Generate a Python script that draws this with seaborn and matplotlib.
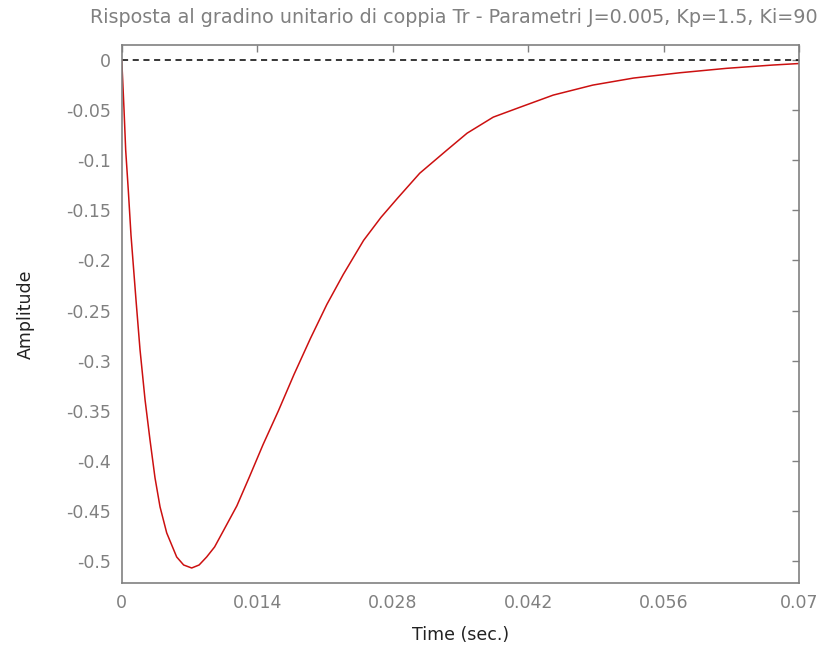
import matplotlib
matplotlib.use("Agg")
import matplotlib.pyplot as plt
import seaborn as sns
import pandas as pd

# Data
time_s = [0.0, 0.0001, 0.00024, 0.00041, 0.00068, 0.00096, 0.0012, 0.00148,
          0.00189, 0.00241, 0.00292, 0.00344, 0.00396, 0.00465, 0.00568, 0.0064,
          0.00723, 0.0080, 0.00878, 0.0096, 0.0105, 0.0119, 0.0132, 0.0146,
          0.0162, 0.0178, 0.0195, 0.0212, 0.0229, 0.0250, 0.0268, 0.0285,
          0.0308, 0.0336, 0.0357, 0.0384, 0.0412, 0.0446, 0.0487, 0.0529,
          0.0577, 0.0625, 0.0673, 0.0700]
amplitude = [0.0, -0.02, -0.05, -0.09, -0.13, -0.175, -0.205, -0.24,
             -0.289, -0.339, -0.379, -0.417, -0.446, -0.472, -0.496, -0.504,
             -0.507, -0.504, -0.496, -0.486, -0.470, -0.445, -0.416, -0.384,
             -0.350, -0.314, -0.278, -0.244, -0.214, -0.180, -0.157, -0.138,
             -0.113, -0.090, -0.073, -0.057, -0.047, -0.035, -0.025, -0.018,
             -0.0127, -0.0083, -0.005, -0.0035]
x_ticks = [0, 0.014, 0.028, 0.042, 0.056, 0.07]
x_tick_labels = ["0", "0.014", "0.028", "0.042", "0.056", "0.07"]
y_ticks = [0, -0.05, -0.1, -0.15, -0.2, -0.25, -0.3, -0.35, -0.4, -0.45, -0.5]
y_tick_labels = ["0", "-0.05", "-0.1", "-0.15", "-0.2", "-0.25", "-0.3", "-0.35",
                 "-0.4", "-0.45", "-0.5"]
steady_state = 0.0

sns.set_style("white")
plt.rcParams["font.family"] = ["DejaVu Sans"]
plt.rcParams["axes.unicode_minus"] = False

grey = "#808080"
df = pd.DataFrame({"Time (sec.)": time_s, "Amplitude": amplitude})

fig = plt.figure(figsize=(8.23, 6.55), dpi=100)
ax = fig.add_axes([0.1479, 0.1099, 0.8229, 0.8214])

ax.axhline(steady_state, color="black", linestyle=(0, (4, 3)), linewidth=1.1, zorder=1)
sns.lineplot(data=df, x="Time (sec.)", y="Amplitude", ax=ax, color="#cc1010",
             linewidth=1.1, zorder=2)

ax.set_xlim(0, 0.07)
ax.set_ylim(-0.522, 0.015)
ax.set_xticks(x_ticks)
ax.set_xticklabels(x_tick_labels)
ax.set_yticks(y_ticks)
ax.set_yticklabels(y_tick_labels)

for sp in ax.spines.values():
    sp.set_visible(True)
    sp.set_color(grey)
    sp.set_linewidth(1.2)

ax.tick_params(direction="in", length=5, width=1, color=grey, labelcolor=grey,
               labelsize=12.5, top=True, right=True, pad=8)

ax.set_title("Risposta al gradino unitario di coppia Tr - Parametri J=0.005, Kp=1.5, Ki=90",
             color=grey, fontsize=13.8, pad=16, x=0.49)
ax.set_xlabel("Time (sec.)", fontsize=12.5, color="#222222", labelpad=10)
ax.set_ylabel("Amplitude", fontsize=12.5, color="#222222", labelpad=22)

fig.savefig("out.png", dpi=100, facecolor="white")
